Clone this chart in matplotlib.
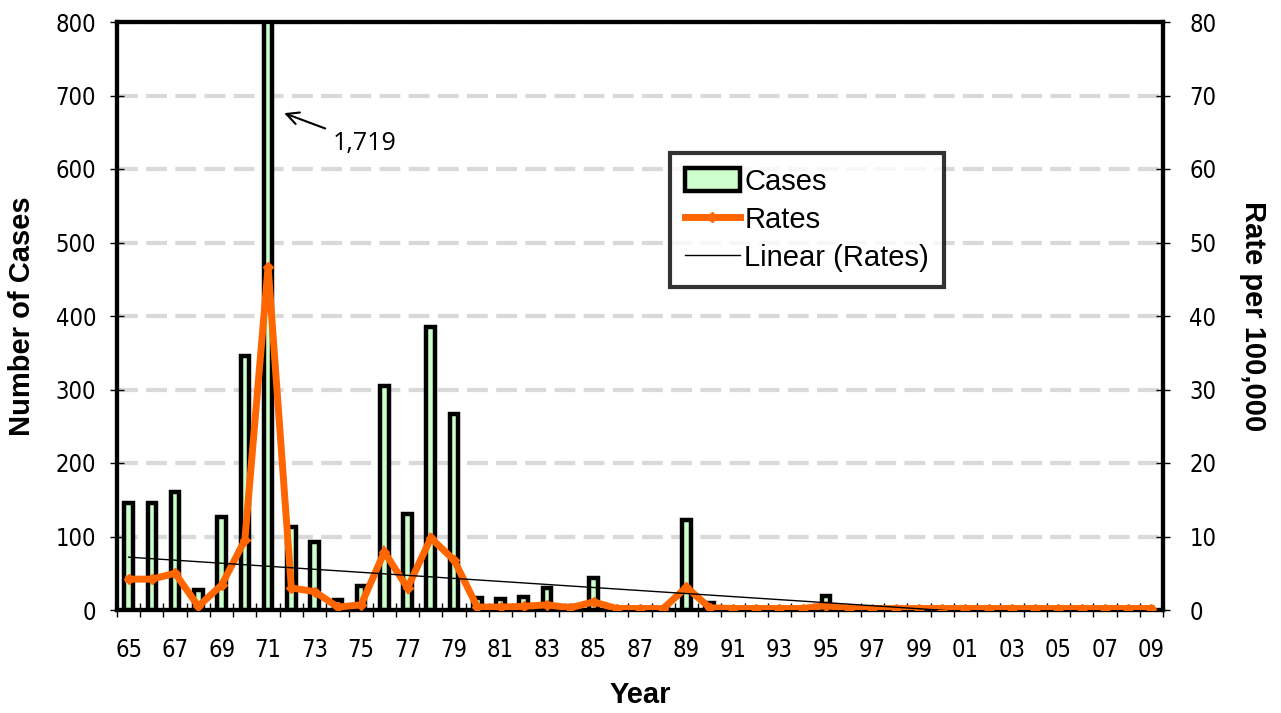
import matplotlib.pyplot as plt
import numpy as np

# data
years = list(range(1965, 2010))
year_labels = [f"{y % 100:02d}" for y in years]
cases = [145, 145, 160, 27, 126, 345, 1719, 113, 92, 13,
         33, 305, 131, 385, 267, 16, 15, 18, 30, 6,
         43, 3, 1, 1, 122, 10, 2, 2, 2, 2,
         19, 1, 0, 0, 0, 0, 0, 0, 0, 0,
         0, 0, 0, 0, 0]
rates = [4.2, 4.2, 5.0, 0.5, 3.4, 9.5, 46.7, 3.0, 2.5, 0.4,
         0.7, 7.9, 3.0, 9.8, 6.8, 0.4, 0.4, 0.5, 0.7, 0.3,
         1.1, 0.2, 0.2, 0.2, 3.1, 0.3, 0.2, 0.2, 0.2, 0.2,
         0.6, 0.2, 0.2, 0.2, 0.2, 0.2, 0.2, 0.2, 0.2, 0.2,
         0.2, 0.2, 0.2, 0.2, 0.2]

x = np.arange(len(years))

plt.rcParams['font.family'] = ['Liberation Sans', 'DejaVu Sans']
tick_font = dict(family=['DejaVu Sans'], stretch='condensed', size=17)

fig = plt.figure(figsize=(12.81, 7.13), dpi=100)
ax = fig.add_axes([117 / 1281, 1 - 610 / 713, (1163 - 117) / 1281, (610 - 22) / 713])

# bars on the left axis
ax.bar(x, cases, width=0.37, color='#CCFFCC', edgecolor='black', linewidth=3.2,
       zorder=3, label='Cases')
ax.set_ylim(0, 800)
ax.set_xlim(-0.5, len(years) - 0.5)
ax.set_yticks(range(0, 801, 100))
ax.yaxis.grid(True, color='#D9D9D9', linewidth=3, linestyle=(0, (5, 2)), zorder=0)
ax.set_axisbelow(True)

# x ticks: labels every other year, tick marks between categories
ax.set_xticks(x[::2])
ax.set_xticklabels(year_labels[::2], **tick_font)
ax.set_xticks(np.arange(-0.5, len(years), 1), minor=True)
ax.tick_params(axis='x', which='major', length=0, pad=20)
ax.tick_params(axis='x', which='minor', length=10, width=1, direction='inout')
ax.tick_params(axis='y', length=10, width=1, direction='inout', pad=10)
ax.set_yticklabels([str(v) for v in range(0, 801, 100)], **tick_font)

for s in ax.spines.values():
    s.set_linewidth(3)

ax.set_ylabel('Number of Cases', fontsize=21, fontweight='bold', labelpad=14)
ax.set_xlabel('Year', fontsize=21, fontweight='bold', labelpad=14)

# rates on the right axis
ax2 = ax.twinx()
ax2.set_ylim(0, 80)
ax2.set_yticks(range(0, 81, 10))
ax2.set_yticklabels([str(v) for v in range(0, 81, 10)], **tick_font)
ax2.tick_params(axis='y', length=10, width=1, direction='inout', pad=14)
ax2.plot(x, rates, color='#FF6600', linewidth=5, marker='D', markersize=5,
         solid_joinstyle='miter', label='Rates', zorder=4)

# linear trendline of rates
coef = np.polyfit(x, rates, 1)
ax2.plot(x, np.polyval(coef, x), color='black', linewidth=1, label='Linear (Rates)', zorder=5)
ax2.set_ylabel('Rate per 100,000', fontsize=21, fontweight='bold', rotation=270, labelpad=36)
for s in ax2.spines.values():
    s.set_linewidth(3)

# annotation for the clipped 1971 bar
ax.annotate('1,719', xy=(6.69, 676), xytext=(8.8, 626), fontsize=18,
            family=['Open Sans', 'DejaVu Sans'],
            arrowprops=dict(arrowstyle='->', color='black', lw=1.5, mutation_scale=22,
                            shrinkA=4, shrinkB=0))

h1, l1 = ax.get_legend_handles_labels()
h2, l2 = ax2.get_legend_handles_labels()
leg = ax2.legend(h1 + h2, l1 + l2, loc='upper left',
                 bbox_to_anchor=((670 - 117) / 1046, 1 - (153 - 22) / 588),
                 borderaxespad=0, frameon=True, fancybox=False,
                 handlelength=1.9, handleheight=0.8, handletextpad=0.15,
                 borderpad=0.5, labelspacing=0.35, prop={'size': 21})
leg.get_frame().set_edgecolor('black')
leg.get_frame().set_linewidth(3)

fig.savefig('out.png', dpi=100)
